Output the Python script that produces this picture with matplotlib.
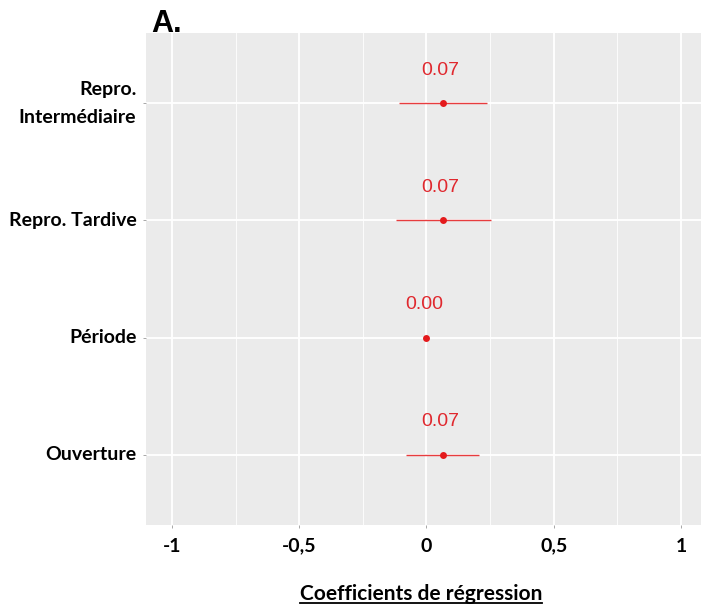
import matplotlib
matplotlib.use("Agg")
import matplotlib.pyplot as plt
from matplotlib.lines import Line2D

# Data
categories = ["Ouverture", "Période", "Repro. Tardive", "Repro.\nIntermédiaire"]
coefs = [0.066, 0.0, 0.066, 0.066]
lower = [-0.080, 0.0, -0.120, -0.108]
upper = [0.207, 0.0, 0.252, 0.240]
coef_labels = ["0.07", "0.00", "0.07", "0.07"]
xticks = [-1, -0.5, 0, 0.5, 1]
xticklabels = ["-1", "-0,5", "0", "0,5", "1"]
minor_xticks = [-0.75, -0.25, 0.25, 0.75]

W, H = 701, 607
fig = plt.figure(figsize=(W / 100, H / 100), dpi=100)
ax = fig.add_axes([146 / W, 1 - 525 / H, 1 - 146 / W, (525 - 33) / H])
ax.set_facecolor("#EBEBEB")
for s in ax.spines.values():
    s.set_visible(False)

ypos = list(range(1, len(categories) + 1))
red = "#e41a1c"
txtred = "#e0282e"
for y, c, lo, hi, lab in zip(ypos, coefs, lower, upper, coef_labels):
    ax.plot([lo, hi], [y, y], color=red, lw=1.0, alpha=0.85, zorder=3, solid_capstyle="butt")
    ax.plot([c], [y], "o", color=red, markersize=5, zorder=4, markeredgewidth=0)
    ax.text(c - 0.01, y + 0.28, lab, color=txtred, fontsize=14, ha="center", va="center",
            family="Liberation Sans", zorder=5)

ax.set_xlim(-1.102, 1.079)
ax.set_ylim(0.4, 4.6)
ax.set_xticks(xticks)
ax.set_xticklabels(xticklabels)
ax.set_xticks(minor_xticks, minor=True)
ax.set_yticks(ypos)
ax.set_yticklabels(categories, ha="right")
ax.grid(True, which="major", color="white", lw=1.3, zorder=1)
ax.grid(True, which="minor", axis="x", color="white", lw=0.6, zorder=1)
ax.set_axisbelow(True)
ax.tick_params(axis="both", which="major", length=2, width=0.6, color="#999999")
ax.tick_params(axis="x", which="minor", length=0)
ax.tick_params(axis="x", pad=7)
ax.tick_params(axis="y", pad=5)
for t in ax.get_xticklabels() + ax.get_yticklabels():
    t.set_fontfamily("Lato")
    t.set_fontweight("bold")
    t.set_fontsize(14)
    t.set_color("black")
for t in ax.get_yticklabels():
    t.set_linespacing(1.75)
    t.set_verticalalignment("center")

fig.text(151 / W, 1 - 32 / H, "A.", fontsize=22, fontweight="bold", family="Liberation Sans",
         ha="left", va="baseline")

xl = fig.text(421 / W, 1 - 594 / H, "Coefficients de régression", fontsize=15, fontweight="bold",
              family="Lato", ha="center", va="center")
fig.canvas.draw()
bb = xl.get_window_extent(fig.canvas.get_renderer())
yline = (bb.y0 + 1) / H
fig.add_artist(Line2D([bb.x0 / W, bb.x1 / W], [yline, yline], color="black", lw=1.3,
                      transform=fig.transFigure))

fig.savefig("out.png", dpi=100)
